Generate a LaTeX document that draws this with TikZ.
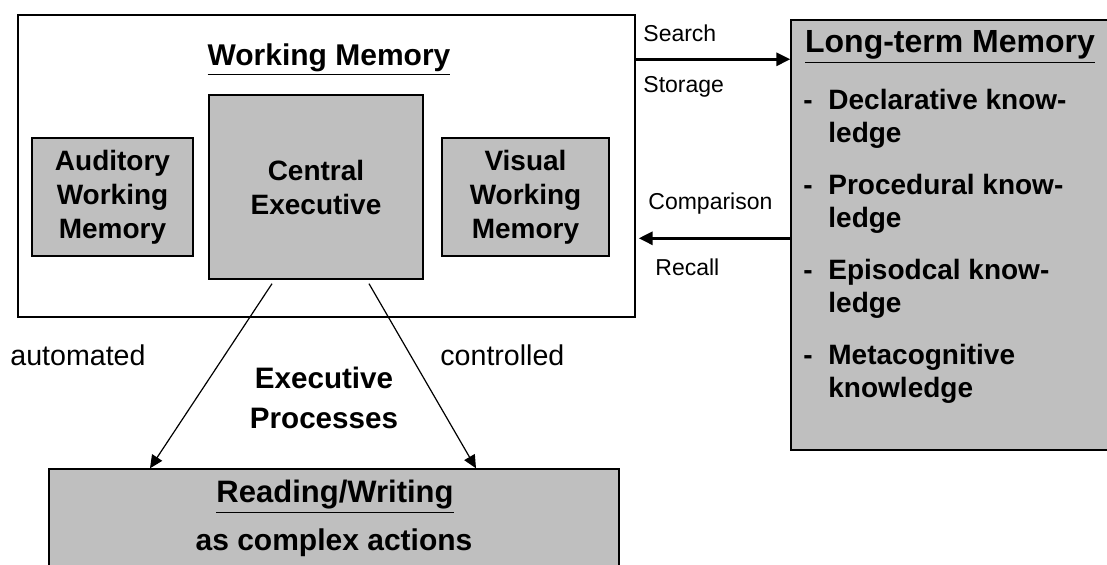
\documentclass[tikz,border=0pt]{standalone}
\usepackage{fontspec}
\setmainfont{Liberation Sans}
\usetikzlibrary{calc,arrows.meta}

\begin{document}
\begin{tikzpicture}[x=0.5pt,y=-0.5pt,
    box/.style = {draw,line width=0.7pt,inner sep=0pt},
    shaded/.style = {box,fill=black!25},
    boxtext/.style = {font=\fontsize{14}{17}\selectfont\bfseries,align=center},
    headtext/.style = {font=\fontsize{15.5}{18}\selectfont\bfseries,inner sep=0pt},
    flowtext/.style = {font=\fontsize{11.5}{14}\selectfont,inner sep=0pt,anchor=west},
    modetext/.style = {font=\fontsize{14.3}{17}\selectfont,inner sep=0pt,anchor=west},
    itemtext/.style = {font=\fontsize{14}{16.5}\selectfont\bfseries,inner sep=0pt,anchor=base west},
    thick arrow/.style = {line width=1.5pt,-{Triangle[length=7pt,width=6.5pt]}},
    thin arrow/.style = {line width=0.6pt,-{Triangle[length=6.5pt,width=6pt]}}]
    \useasboundingbox (0,0) rectangle (1107,565);
    \clip (0,0) rectangle (1107,565);

    \node[box,minimum width=308.5pt,minimum height=151pt] (wm) at (326.5,166) {};
    \node[headtext,font=\fontsize{15}{18}\selectfont\bfseries] (wmtitle) at (329,60) {\underline{Working Memory}};
    \node[shaded,boxtext,minimum width=80.5pt,minimum height=59pt] (aud) at (112.5,197) {Auditory\\Working\\Memory};
    \node[shaded,boxtext,minimum width=107pt,minimum height=92pt] (ce) at (316,187) {Central\\Executive};
    \node[shaded,boxtext,minimum width=83.5pt,minimum height=59pt] (vis) at (525.5,197) {Visual\\Working\\Memory};

    \node[shaded,minimum width=170pt,minimum height=215pt] (ltm) at (961,235) {};
    \node[headtext,font=\fontsize{16}{18}\selectfont\bfseries] (ltmtitle) at (950,47) {\underline{Long-term Memory}};
    \foreach \y/\first/\second [count=\i] in {110/Declarative know-/ledge,195/Procedural know-/ledge,
            280/Episodcal know-/ledge,365/Metacognitive/knowledge}{
        \node[itemtext] (dash\i) at (803,\y) {-};
        \node[itemtext] (item\i) at (828,\y) {\first};
        \node[itemtext] (cont\i) at (828,\y+33) {\second};
    }

    \node[shaded,minimum width=285pt,minimum height=53pt] (rw) at (334,522) {};
    \node[headtext] (rwtitle) at (335,497) {\underline{Reading/Writing}};
    \node[headtext,font=\fontsize{15}{17}\selectfont\bfseries] (rwsub) at (334,543) {as complex actions};

    \node[flowtext] (search) at (643,33) {Search};
    \node[flowtext] (storage) at (643,87) {Storage};
    \node[flowtext] (compare) at (648,204) {Comparison};
    \node[flowtext] (recall) at (655,267) {Recall};
    \draw[thick arrow] ($(wm.north east)+(0,45)$) -- ($(ltm.north west)+(0,40)$);
    \draw[thick arrow] ($(ltm.north west)+(0,219)$) -- ($(wm.north east)+(3,224)$);

    \node[modetext] (auto) at (10,355) {automated};
    \node[modetext] (ctrl) at (440,355) {controlled};
    \node[boxtext,inner sep=0pt,font=\fontsize{14.8}{20}\selectfont\bfseries] (exec) at (324,398) {Executive\\Processes};
    \draw[thin arrow] ($(ce.south)+(-44,4)$) -- ($(rw.north)+(-184,0)$);
    \draw[thin arrow] ($(ce.south)+(53,4)$) -- ($(rw.north)+(142,0)$);
\end{tikzpicture}
\end{document}
